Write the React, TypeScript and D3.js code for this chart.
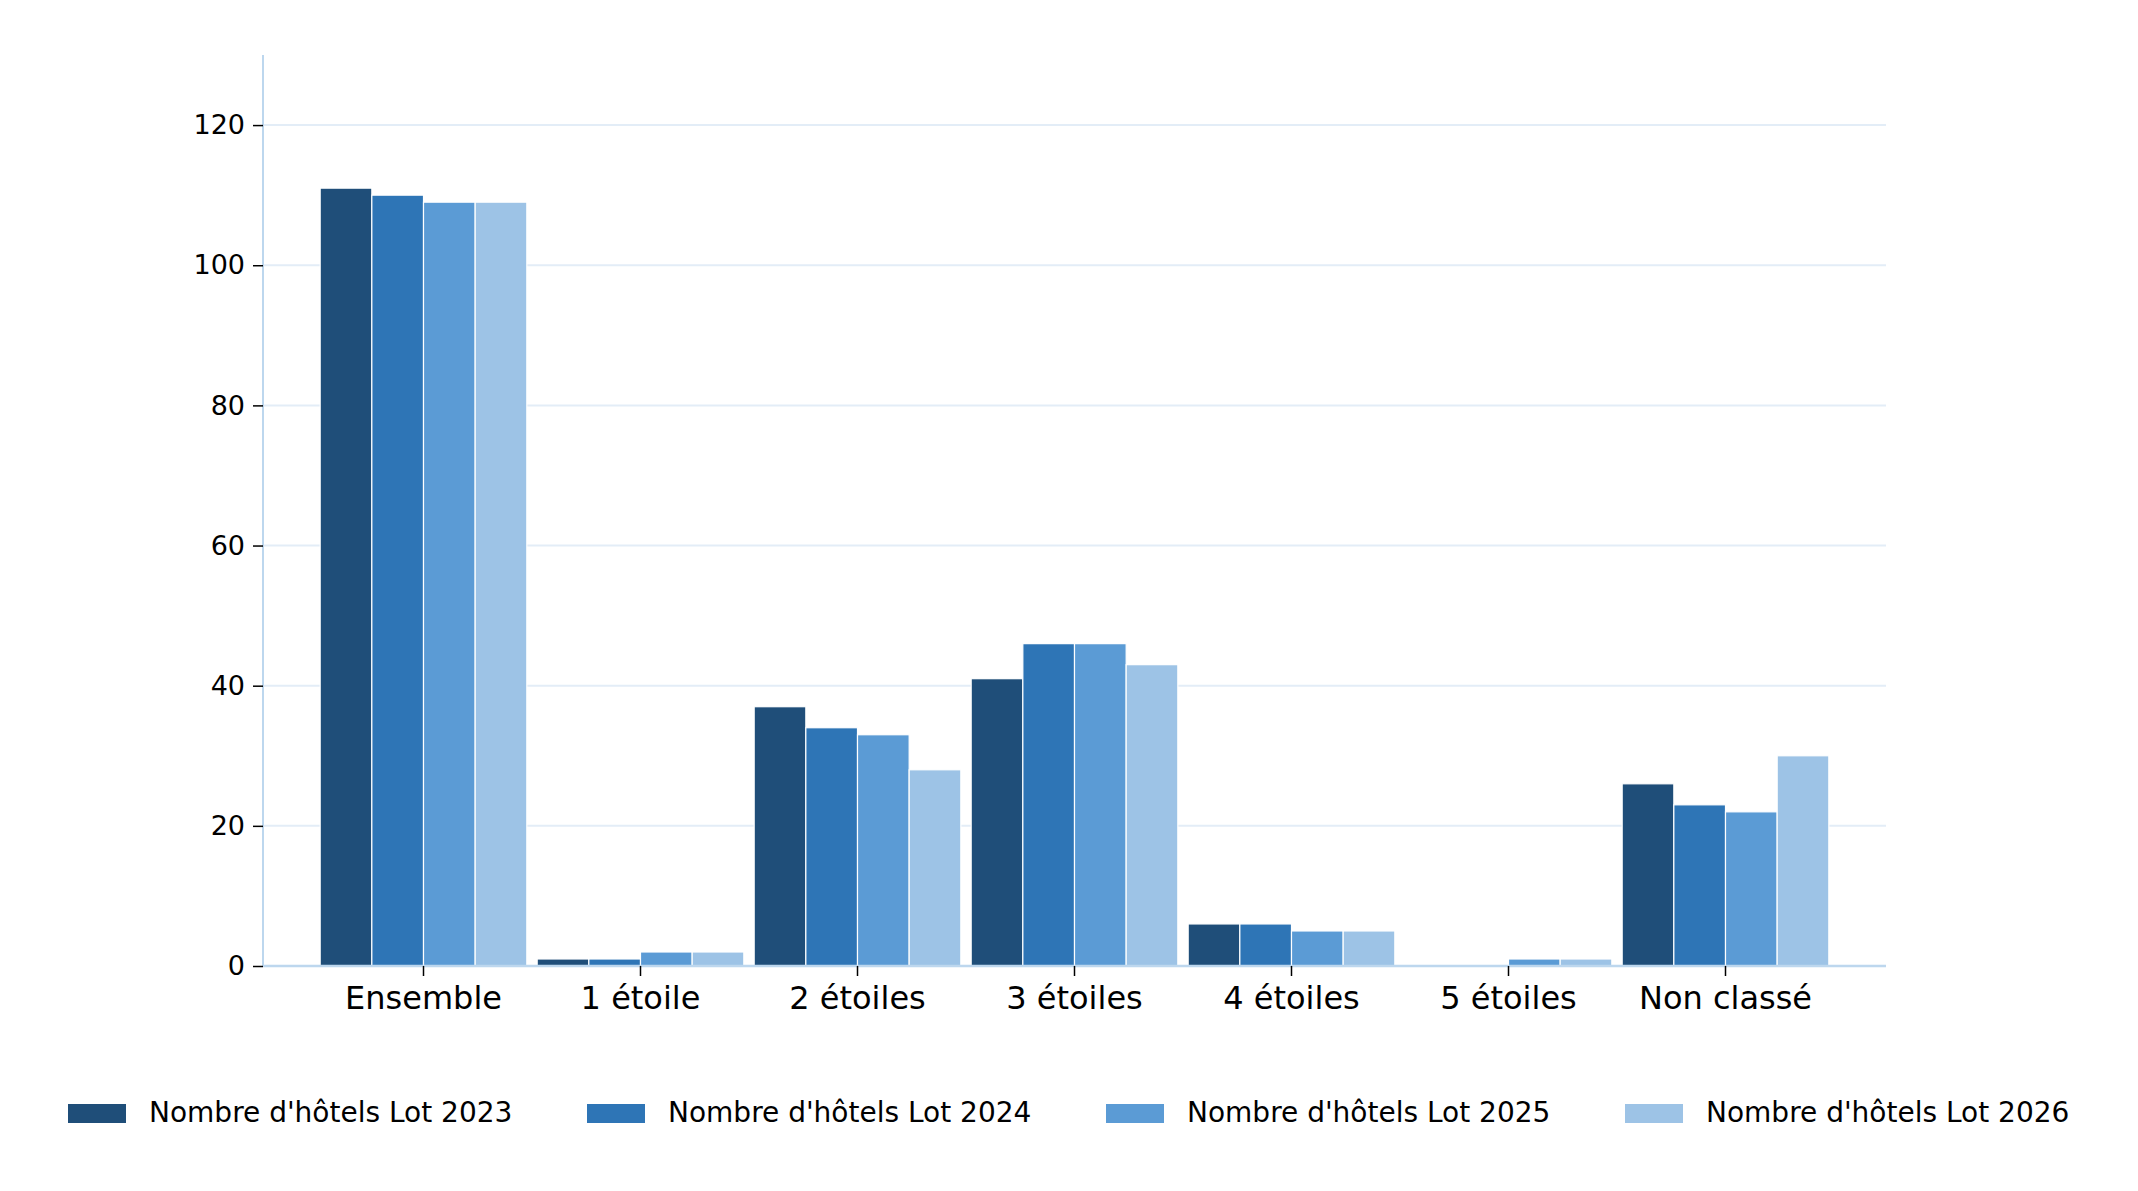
import { useEffect, useRef } from 'react';
import * as d3 from 'd3';

const categories = ['Ensemble', '1 étoile', '2 étoiles', '3 étoiles', '4 étoiles', '5 étoiles', 'Non classé'];
const seriesNames = ["Nombre d'hôtels Lot 2023", "Nombre d'hôtels Lot 2024", "Nombre d'hôtels Lot 2025", "Nombre d'hôtels Lot 2026"];
const lot2023 = [111, 1, 37, 41, 6, 0, 26];
const lot2024 = [110, 1, 34, 46, 6, 0, 23];
const lot2025 = [109, 2, 33, 46, 5, 1, 22];
const lot2026 = [109, 2, 28, 43, 5, 1, 30];
const yTicks = [0, 20, 40, 60, 80, 100, 120];

const colors = ['#1f4e79', '#2e75b6', '#5b9bd5', '#9dc3e6'];

export default function App() {
  const ref = useRef<SVGSVGElement>(null);

  useEffect(() => {
    if (!ref.current) return;
    const svg = d3.select(ref.current);
    svg.selectAll('*').remove();

    const left = 263, right = 1886, top = 55, bottom = 966;
    const series = [lot2023, lot2024, lot2025, lot2026];
    const font = 'DejaVu Sans, sans-serif';

    const y = d3.scaleLinear().domain([0, 130]).range([bottom, top]);
    const x = d3.scaleBand().domain(categories).range([left + 52, right - 52]);
    const xs = d3.scaleBand<number>().domain([0, 1, 2, 3]).range([0, x.bandwidth()]).paddingOuter(0.1);

    // Grid
    svg.append('g')
      .selectAll('line')
      .data(yTicks.slice(1))
      .enter()
      .append('line')
      .attr('x1', left).attr('x2', right)
      .attr('y1', d => y(d)).attr('y2', d => y(d))
      .attr('stroke', '#e3edf7').attr('stroke-width', 2);

    // Bars
    series.forEach((vals, si) => {
      svg.append('g')
        .selectAll('rect')
        .data(vals)
        .enter()
        .append('rect')
        .attr('x', (_, i) => (x(categories[i]) || 0) + (xs(si) || 0))
        .attr('y', d => y(d))
        .attr('width', xs.bandwidth())
        .attr('height', d => bottom - y(d))
        .attr('fill', colors[si])
        .attr('stroke', '#fff')
        .attr('stroke-width', 1.2);
    });

    // Axes
    svg.append('line')
      .attr('x1', left).attr('x2', left).attr('y1', top).attr('y2', bottom)
      .attr('stroke', '#bdd7ee').attr('stroke-width', 2);
    svg.append('line')
      .attr('x1', left).attr('x2', right).attr('y1', bottom).attr('y2', bottom)
      .attr('stroke', '#bdd7ee').attr('stroke-width', 2.5);

    const yAxis = svg.append('g')
      .attr('transform', `translate(${left},0)`)
      .call(d3.axisLeft(y).tickValues(yTicks).tickSize(10).tickPadding(8));
    yAxis.select('.domain').remove();
    yAxis.selectAll('text').attr('font-size', 27).attr('font-family', font).attr('fill', '#000');
    yAxis.selectAll('line').attr('stroke', '#000').attr('stroke-width', 1.5);

    const xAxis = svg.append('g')
      .attr('transform', `translate(0,${bottom})`)
      .call(d3.axisBottom(x).tickSize(10).tickPadding(10));
    xAxis.select('.domain').remove();
    xAxis.selectAll('text').attr('font-size', 32).attr('font-family', font).attr('fill', '#000');
    xAxis.selectAll('line').attr('stroke', '#000').attr('stroke-width', 1.5);

    // Legend
    const legend = svg.append('g');
    seriesNames.forEach((name, i) => {
      const lx = 68 + i * 519;
      legend.append('rect')
        .attr('x', lx).attr('y', 1104).attr('width', 58).attr('height', 19)
        .attr('fill', colors[i]);
      legend.append('text')
        .attr('x', lx + 81).attr('y', 1114)
        .attr('dominant-baseline', 'middle')
        .attr('font-size', 28).attr('font-family', font)
        .text(name);
    });
  }, []);

  return (
    <svg ref={ref} width={2138} height={1191}
      style={{ position: 'absolute', left: 0, top: 0, background: '#fff' }} />
  );
}
